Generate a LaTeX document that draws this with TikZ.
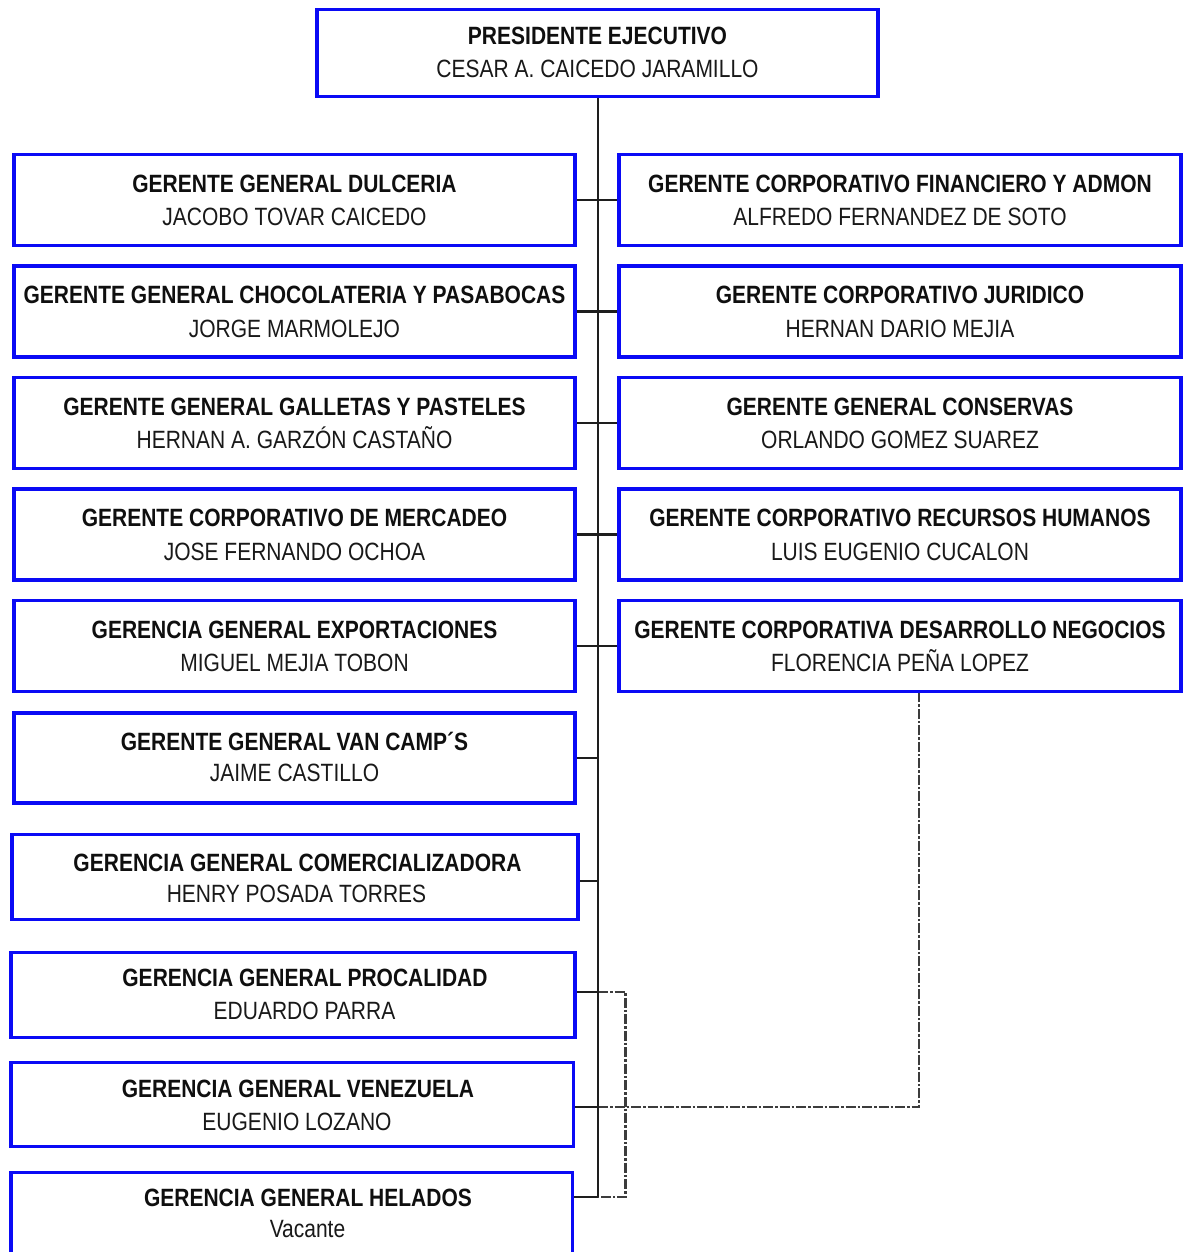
\documentclass[tikz,border=0pt]{standalone}
\usepackage{fontspec}
\setmainfont{Liberation Sans}[FakeStretch=0.84]
\pgfdeclarelayer{bg}
\pgfsetlayers{bg,main}
\begin{document}
\begin{tikzpicture}[x=1pt,y=-1pt,
  font=\fontsize{25}{30}\selectfont,
  box/.style={draw={rgb,255:red,10;green,10;blue,245}, line width=3.4pt, inner sep=0pt},
  ttl/.style={anchor=base, font=\fontsize{25}{30}\selectfont\bfseries, text={rgb,255:red,15;green,15;blue,15}},
  nm/.style={anchor=base, text={rgb,255:red,25;green,25;blue,25}},
  con/.style={draw={rgb,255:red,30;green,30;blue,30}, line width=2.3pt},
  dd/.style={draw={rgb,255:red,60;green,60;blue,60}, line width=2.3pt, dash pattern=on 10pt off 2pt on 2.5pt off 2pt}]
\clip (0,0) rectangle (1187,1252);

% top box
\node[box, minimum width=561, minimum height=87.4] (P) at (597.5,53) {};
\node[ttl] (Pt) at (597.5,44.3) {PRESIDENTE EJECUTIVO};
\node[nm] (Pn) at (597.5,77.3) {CESAR A. CAICEDO JARAMILLO};

% left column
\node[box, minimum width=561, minimum height=91] (L1) at (294.5,200) {};
\node[ttl] (L1t) at (294.5,192.3) {GERENTE GENERAL DULCERIA};
\node[nm] (L1n) at (294.5,225.7) {JACOBO TOVAR CAICEDO};

\node[box, minimum width=561, minimum height=91] (L2) at (294.5,311.5) {};
\node[ttl] (L2t) at (294.5,303.8) {GERENTE GENERAL CHOCOLATERIA Y PASABOCAS};
\node[nm] (L2n) at (294.5,337.2) {JORGE MARMOLEJO};

\node[box, minimum width=561, minimum height=91] (L3) at (294.5,423) {};
\node[ttl] (L3t) at (294.5,415.3) {GERENTE GENERAL GALLETAS Y PASTELES};
\node[nm] (L3n) at (294.5,448.7) {HERNAN A. GARZÓN CASTAÑO};

\node[box, minimum width=561, minimum height=91] (L4) at (294.5,534.5) {};
\node[ttl] (L4t) at (294.5,526.8) {GERENTE CORPORATIVO DE MERCADEO};
\node[nm] (L4n) at (294.5,560.2) {JOSE FERNANDO OCHOA};

\node[box, minimum width=561, minimum height=91] (L5) at (294.5,646) {};
\node[ttl] (L5t) at (294.5,638.3) {GERENCIA GENERAL EXPORTACIONES};
\node[nm] (L5n) at (294.5,671.7) {MIGUEL MEJIA TOBON};

\node[box, minimum width=561, minimum height=90] (L6) at (294.5,758) {};
\node[ttl] (L6t) at (294.5,750.7) {GERENTE GENERAL VAN CAMP´S};
\node[nm] (L6n) at (294.5,781.7) {JAIME CASTILLO};

\node[box, minimum width=566, minimum height=85] (L7) at (295,876.8) {};
\node[ttl] (L7t) at (297.5,871.7) {GERENCIA GENERAL COMERCIALIZADORA};
\node[nm] (L7n) at (296.5,902.7) {HENRY POSADA TORRES};

\node[box, minimum width=564, minimum height=84.6] (L8) at (293,995) {};
\node[ttl] (L8t) at (305,986) {GERENCIA GENERAL PROCALIDAD};
\node[nm] (L8n) at (304.5,1019.3) {EDUARDO PARRA};

\node[box, minimum width=562.5, minimum height=84] (L9) at (292.25,1104.7) {};
\node[ttl] (L9t) at (298,1097.3) {GERENCIA GENERAL VENEZUELA};
\node[nm] (L9n) at (297,1130.7) {EUGENIO LOZANO};

\node[box, minimum width=561.7, minimum height=92.7] (L10) at (291.85,1218.65) {};
\node[ttl] (L10t) at (308,1206.7) {GERENCIA GENERAL HELADOS};
\node[nm] (L10n) at (307.5,1237.8) {Vacante};

% right column
\node[box, minimum width=562, minimum height=91] (R1) at (900,200) {};
\node[ttl] (R1t) at (900,192.3) {GERENTE CORPORATIVO FINANCIERO Y ADMON};
\node[nm] (R1n) at (900,225.7) {ALFREDO FERNANDEZ DE SOTO};

\node[box, minimum width=562, minimum height=91] (R2) at (900,311.5) {};
\node[ttl] (R2t) at (900,303.8) {GERENTE CORPORATIVO JURIDICO};
\node[nm] (R2n) at (900,337.2) {HERNAN DARIO MEJIA};

\node[box, minimum width=562, minimum height=91] (R3) at (900,423) {};
\node[ttl] (R3t) at (900,415.3) {GERENTE GENERAL CONSERVAS};
\node[nm] (R3n) at (900,448.7) {ORLANDO GOMEZ SUAREZ};

\node[box, minimum width=562, minimum height=91] (R4) at (900,534.5) {};
\node[ttl] (R4t) at (900,526.8) {GERENTE CORPORATIVO RECURSOS HUMANOS};
\node[nm] (R4n) at (900,560.2) {LUIS EUGENIO CUCALON};

\node[box, minimum width=562, minimum height=91] (R5) at (900,646) {};
\node[ttl] (R5t) at (900,638.3) {GERENTE CORPORATIVA DESARROLLO NEGOCIOS};
\node[nm] (R5n) at (900,671.7) {FLORENCIA PEÑA LOPEZ};

% trunk coordinates
\coordinate (tk) at (598,0);
\coordinate (c7) at (598,881);
\coordinate (c8) at (598,992.3);
\coordinate (d8) at (625.5,992.3);
\coordinate (c9) at (598,1107);
\coordinate (e9) at (919,1107);
\coordinate (c10) at (598,1197.3);
\coordinate (d10) at (625.5,1197.3);

\begin{pgfonlayer}{bg}
\fill[white] (0,0) rectangle (1187,1252);
\draw[dd] (c8) -- (d8) -- (d10) -- (c10);
\draw[dd] (c9) -- (e9) -- (e9 |- R5.south);
\draw[con] (P.south -| tk) -- (c10);
\draw[con] (L1.east) -- (R1.west);
\draw[con] (L2.east) -- (R2.west);
\draw[con] (L3.east) -- (R3.west);
\draw[con] (L4.east) -- (R4.west);
\draw[con] (L5.east) -- (R5.west);
\draw[con] (L6.east) -- (L6.east -| tk);
\draw[con] (L7.east |- c7) -- (c7);
\draw[con] (L8.east |- c8) -- (c8);
\draw[con] (L9.east |- c9) -- (c9);
\draw[con] (L10.east |- c10) -- (c10);
\end{pgfonlayer}
\end{tikzpicture}
\end{document}
